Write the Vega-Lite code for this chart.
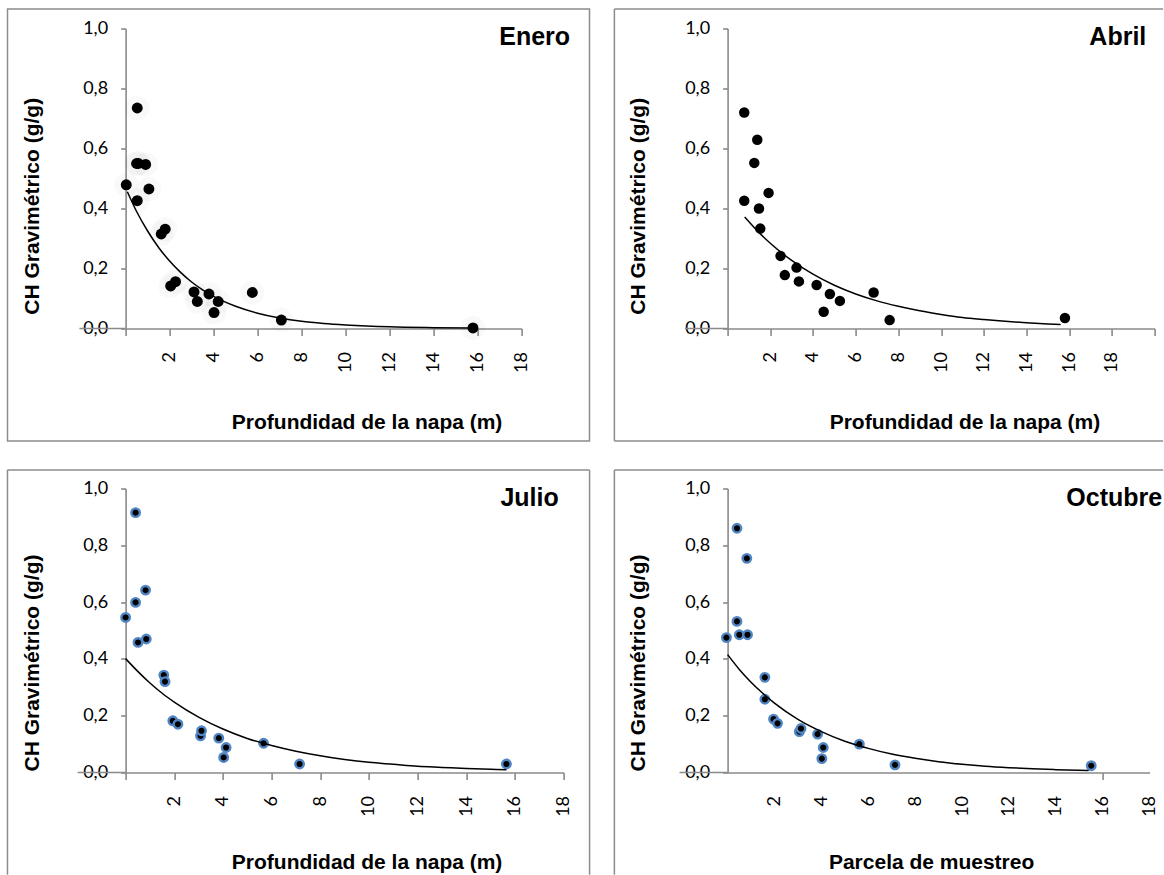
{
 "$schema": "https://vega.github.io/schema/vega-lite/v6.json",
 "background": "white",
 "padding": {"left": 6.6, "top": 7.5, "right": 0, "bottom": 0},
 "config": {
  "view": {"stroke": null},
  "axis": {"grid": false, "domainColor": "#8a8a8a", "domainWidth": 1.6, "tickColor": "#8a8a8a", "tickWidth": 1.6, "labelFont": "Lato", "labelFontSize": 18, "labelColor": "#000", "labelOverlap": false, "labelFlush": false, "titleFont": "Liberation Sans", "titleFontSize": 21, "titleFontWeight": "bold", "titleColor": "#000"},
  "axisX": {"tickSize": 7, "labelAngle": 270, "labelAlign": "right", "labelBaseline": "middle", "labelPadding": 16, "titleAngle": 0, "titleAlign": "center", "titleBaseline": "alphabetic"},
  "axisY": {"tickSize": 5, "labelPadding": 13, "titleAngle": 270, "titleAlign": "center", "titleBaseline": "middle"},
  "title": {"font": "Liberation Sans", "fontSize": 25, "fontWeight": "bold", "color": "#000", "anchor": "end", "frame": "group", "baseline": "middle", "offset": 0}
 },
 "datasets": {
  "obs": [
   {"mes": "Enero", "prof": 0.03, "ch": 0.479}, {"mes": "Enero", "prof": 0.5, "ch": 0.55}, {"mes": "Enero", "prof": 0.58, "ch": 0.55}, {"mes": "Enero", "prof": 0.91, "ch": 0.547}, {"mes": "Enero", "prof": 1.06, "ch": 0.465}, {"mes": "Enero", "prof": 0.53, "ch": 0.426}, {"mes": "Enero", "prof": 0.53, "ch": 0.735}, {"mes": "Enero", "prof": 1.62, "ch": 0.315}, {"mes": "Enero", "prof": 1.8, "ch": 0.331}, {"mes": "Enero", "prof": 2.05, "ch": 0.142}, {"mes": "Enero", "prof": 2.27, "ch": 0.156}, {"mes": "Enero", "prof": 3.11, "ch": 0.122}, {"mes": "Enero", "prof": 3.26, "ch": 0.09}, {"mes": "Enero", "prof": 3.79, "ch": 0.115}, {"mes": "Enero", "prof": 4.21, "ch": 0.09}, {"mes": "Enero", "prof": 4.02, "ch": 0.053}, {"mes": "Enero", "prof": 5.76, "ch": 0.12}, {"mes": "Enero", "prof": 7.08, "ch": 0.028}, {"mes": "Enero", "prof": 15.79, "ch": 0.002},
   {"mes": "Abril", "prof": 0.78, "ch": 0.72}, {"mes": "Abril", "prof": 1.39, "ch": 0.629}, {"mes": "Abril", "prof": 1.25, "ch": 0.552}, {"mes": "Abril", "prof": 0.78, "ch": 0.426}, {"mes": "Abril", "prof": 1.92, "ch": 0.452}, {"mes": "Abril", "prof": 1.47, "ch": 0.4}, {"mes": "Abril", "prof": 1.53, "ch": 0.333}, {"mes": "Abril", "prof": 2.48, "ch": 0.242}, {"mes": "Abril", "prof": 2.68, "ch": 0.178}, {"mes": "Abril", "prof": 3.23, "ch": 0.203}, {"mes": "Abril", "prof": 3.34, "ch": 0.157}, {"mes": "Abril", "prof": 4.17, "ch": 0.145}, {"mes": "Abril", "prof": 4.79, "ch": 0.115}, {"mes": "Abril", "prof": 4.5, "ch": 0.056}, {"mes": "Abril", "prof": 5.26, "ch": 0.092}, {"mes": "Abril", "prof": 6.84, "ch": 0.12}, {"mes": "Abril", "prof": 7.59, "ch": 0.028}, {"mes": "Abril", "prof": 15.8, "ch": 0.035},
   {"mes": "Julio", "prof": 0.41, "ch": 0.915}, {"mes": "Julio", "prof": 0.82, "ch": 0.642}, {"mes": "Julio", "prof": 0.41, "ch": 0.599}, {"mes": "Julio", "prof": 0.0, "ch": 0.546}, {"mes": "Julio", "prof": 0.51, "ch": 0.458}, {"mes": "Julio", "prof": 0.85, "ch": 0.47}, {"mes": "Julio", "prof": 1.57, "ch": 0.343}, {"mes": "Julio", "prof": 1.62, "ch": 0.32}, {"mes": "Julio", "prof": 1.94, "ch": 0.182}, {"mes": "Julio", "prof": 2.15, "ch": 0.17}, {"mes": "Julio", "prof": 3.08, "ch": 0.129}, {"mes": "Julio", "prof": 3.12, "ch": 0.147}, {"mes": "Julio", "prof": 3.83, "ch": 0.121}, {"mes": "Julio", "prof": 4.13, "ch": 0.088}, {"mes": "Julio", "prof": 4.03, "ch": 0.053}, {"mes": "Julio", "prof": 5.67, "ch": 0.103}, {"mes": "Julio", "prof": 7.15, "ch": 0.03}, {"mes": "Julio", "prof": 15.65, "ch": 0.03},
   {"mes": "Octubre", "prof": 0.4, "ch": 0.86}, {"mes": "Octubre", "prof": 0.82, "ch": 0.754}, {"mes": "Octubre", "prof": 0.4, "ch": 0.532}, {"mes": "Octubre", "prof": -0.05, "ch": 0.475}, {"mes": "Octubre", "prof": 0.5, "ch": 0.485}, {"mes": "Octubre", "prof": 0.85, "ch": 0.485}, {"mes": "Octubre", "prof": 1.59, "ch": 0.335}, {"mes": "Octubre", "prof": 1.59, "ch": 0.258}, {"mes": "Octubre", "prof": 1.96, "ch": 0.188}, {"mes": "Octubre", "prof": 2.13, "ch": 0.173}, {"mes": "Octubre", "prof": 3.06, "ch": 0.144}, {"mes": "Octubre", "prof": 3.13, "ch": 0.155}, {"mes": "Octubre", "prof": 3.84, "ch": 0.135}, {"mes": "Octubre", "prof": 4.08, "ch": 0.088}, {"mes": "Octubre", "prof": 4.02, "ch": 0.049}, {"mes": "Octubre", "prof": 5.62, "ch": 0.1}, {"mes": "Octubre", "prof": 7.14, "ch": 0.027}, {"mes": "Octubre", "prof": 15.51, "ch": 0.024}
  ],
  "fit": [
   {"mes": "Enero", "prof": 0.08, "ch": 0.456}, {"mes": "Enero", "prof": 0.5, "ch": 0.39}, {"mes": "Enero", "prof": 1, "ch": 0.325}, {"mes": "Enero", "prof": 1.5, "ch": 0.27}, {"mes": "Enero", "prof": 2, "ch": 0.225}, {"mes": "Enero", "prof": 2.5, "ch": 0.187}, {"mes": "Enero", "prof": 3, "ch": 0.155}, {"mes": "Enero", "prof": 3.5, "ch": 0.129}, {"mes": "Enero", "prof": 4, "ch": 0.107}, {"mes": "Enero", "prof": 5, "ch": 0.074}, {"mes": "Enero", "prof": 6, "ch": 0.051}, {"mes": "Enero", "prof": 7, "ch": 0.035}, {"mes": "Enero", "prof": 8, "ch": 0.024}, {"mes": "Enero", "prof": 9, "ch": 0.017}, {"mes": "Enero", "prof": 10, "ch": 0.012}, {"mes": "Enero", "prof": 12, "ch": 0.0055}, {"mes": "Enero", "prof": 14, "ch": 0.0027}, {"mes": "Enero", "prof": 15.8, "ch": 0.0013},
   {"mes": "Abril", "prof": 0.8, "ch": 0.372}, {"mes": "Abril", "prof": 1.5, "ch": 0.318}, {"mes": "Abril", "prof": 2, "ch": 0.284}, {"mes": "Abril", "prof": 3, "ch": 0.227}, {"mes": "Abril", "prof": 4, "ch": 0.181}, {"mes": "Abril", "prof": 5, "ch": 0.144}, {"mes": "Abril", "prof": 6, "ch": 0.115}, {"mes": "Abril", "prof": 7, "ch": 0.092}, {"mes": "Abril", "prof": 8, "ch": 0.074}, {"mes": "Abril", "prof": 9, "ch": 0.059}, {"mes": "Abril", "prof": 10, "ch": 0.047}, {"mes": "Abril", "prof": 11, "ch": 0.037}, {"mes": "Abril", "prof": 12, "ch": 0.03}, {"mes": "Abril", "prof": 13, "ch": 0.024}, {"mes": "Abril", "prof": 14, "ch": 0.019}, {"mes": "Abril", "prof": 15, "ch": 0.015}, {"mes": "Abril", "prof": 15.6, "ch": 0.013},
   {"mes": "Julio", "prof": 0, "ch": 0.401}, {"mes": "Julio", "prof": 0.5, "ch": 0.356}, {"mes": "Julio", "prof": 1, "ch": 0.315}, {"mes": "Julio", "prof": 1.5, "ch": 0.279}, {"mes": "Julio", "prof": 2, "ch": 0.248}, {"mes": "Julio", "prof": 3, "ch": 0.195}, {"mes": "Julio", "prof": 4, "ch": 0.153}, {"mes": "Julio", "prof": 5, "ch": 0.12}, {"mes": "Julio", "prof": 6, "ch": 0.095}, {"mes": "Julio", "prof": 7, "ch": 0.075}, {"mes": "Julio", "prof": 8, "ch": 0.059}, {"mes": "Julio", "prof": 9, "ch": 0.046}, {"mes": "Julio", "prof": 10, "ch": 0.036}, {"mes": "Julio", "prof": 11, "ch": 0.029}, {"mes": "Julio", "prof": 12, "ch": 0.022}, {"mes": "Julio", "prof": 13, "ch": 0.018}, {"mes": "Julio", "prof": 14, "ch": 0.014}, {"mes": "Julio", "prof": 15, "ch": 0.011}, {"mes": "Julio", "prof": 15.65, "ch": 0.0094},
   {"mes": "Octubre", "prof": 0, "ch": 0.415}, {"mes": "Octubre", "prof": 0.5, "ch": 0.363}, {"mes": "Octubre", "prof": 1, "ch": 0.318}, {"mes": "Octubre", "prof": 1.5, "ch": 0.279}, {"mes": "Octubre", "prof": 2, "ch": 0.244}, {"mes": "Octubre", "prof": 3, "ch": 0.187}, {"mes": "Octubre", "prof": 4, "ch": 0.144}, {"mes": "Octubre", "prof": 5, "ch": 0.11}, {"mes": "Octubre", "prof": 6, "ch": 0.085}, {"mes": "Octubre", "prof": 7, "ch": 0.065}, {"mes": "Octubre", "prof": 8, "ch": 0.05}, {"mes": "Octubre", "prof": 9, "ch": 0.038}, {"mes": "Octubre", "prof": 10, "ch": 0.029}, {"mes": "Octubre", "prof": 11, "ch": 0.022}, {"mes": "Octubre", "prof": 12, "ch": 0.017}, {"mes": "Octubre", "prof": 13, "ch": 0.013}, {"mes": "Octubre", "prof": 14, "ch": 0.01}, {"mes": "Octubre", "prof": 15.4, "ch": 0.007}
  ]
 },
 "columns": 2,
 "spacing": {"row": 160, "column": 164},
 "bounds": "flush",
 "concat": [
  {
   "width": 396, "height": 300,
   "title": {"text": "Enero", "dx": 48.5, "dy": 45.7},
   "layer": [
    {"data": {"name": "obs"}, "transform": [{"filter": "datum.mes == 'Enero'"}], "mark": {"type": "circle", "size": 120, "color": "#000", "opacity": 1},
     "encoding": {
      "x": {"field": "prof", "type": "quantitative", "scale": {"domain": [0, 18], "nice": false}, "axis": {"values": [0, 2, 4, 6, 8, 10, 12, 14, 16, 18], "labelExpr": "datum.value == 0 ? '' : datum.label", "title": "Profundidad de la napa (m)", "titleX": 241, "titleY": 99.8}},
      "y": {"field": "ch", "type": "quantitative", "scale": {"domain": [0, 1], "nice": false}, "axis": {"values": [0, 0.2, 0.4, 0.6, 0.8, 1], "labelExpr": "replace(format(datum.value, '.1f'), '.', ',')", "title": "CH Gravimétrico (g/g)", "titleX": -93.5, "titleY": 177.3}}}},
    {"data": {"name": "obs"}, "transform": [{"filter": "datum.mes == 'Enero'"}], "mark": {"type": "circle", "size": 600, "color": "#000", "opacity": 0.025},
     "encoding": {"x": {"field": "prof", "type": "quantitative", "scale": {"domain": [0, 18], "nice": false}}, "y": {"field": "ch", "type": "quantitative", "scale": {"domain": [0, 1], "nice": false}}}},
    {"data": {"values": [{}]}, "mark": {"type": "rect", "filled": false, "color": "#8c8c8c", "strokeWidth": 1.5},
     "encoding": {"x": {"datum": -5.368, "type": "quantitative", "scale": {"domain": [0, 18], "nice": false}}, "x2": {"datum": 21.086}, "y": {"datum": 1.0647, "type": "quantitative", "scale": {"domain": [0, 1], "nice": false}}, "y2": {"datum": -0.3753}}},
    {"data": {"values": [{}]}, "mark": {"type": "rule", "color": "#8a8a8a", "strokeWidth": 1.6},
     "encoding": {"x": {"datum": -2.1, "type": "quantitative", "scale": {"domain": [0, 18], "nice": false}}, "x2": {"datum": 0}, "y": {"datum": 0, "type": "quantitative", "scale": {"domain": [0, 1], "nice": false}}}},
    {"data": {"name": "fit"}, "transform": [{"filter": "datum.mes == 'Enero'"}], "mark": {"type": "line", "color": "#000", "strokeWidth": 1.5, "interpolate": "monotone"},
     "encoding": {"x": {"field": "prof", "type": "quantitative", "scale": {"domain": [0, 18], "nice": false}}, "y": {"field": "ch", "type": "quantitative", "scale": {"domain": [0, 1], "nice": false}}}}
   ]
  },
  {
   "width": 427, "height": 300,
   "title": {"text": "Abril", "dx": -8.3, "dy": 45.7},
   "layer": [
    {"data": {"name": "obs"}, "transform": [{"filter": "datum.mes == 'Abril'"}], "mark": {"type": "circle", "size": 110, "color": "#000", "opacity": 1},
     "encoding": {
      "x": {"field": "prof", "type": "quantitative", "scale": {"domain": [0, 20], "nice": false}, "axis": {"values": [0, 2, 4, 6, 8, 10, 12, 14, 16, 18, 20], "labelExpr": "datum.value == 0 || datum.value == 20 ? '' : datum.label", "title": "Profundidad de la napa (m)", "titleX": 236.8, "titleY": 99.8}},
      "y": {"field": "ch", "type": "quantitative", "scale": {"domain": [0, 1], "nice": false}, "axis": {"values": [0, 0.2, 0.4, 0.6, 0.8, 1], "labelExpr": "replace(format(datum.value, '.1f'), '.', ',')", "title": "CH Gravimétrico (g/g)", "titleX": -89.5, "titleY": 177.3}}}},
    {"data": {"values": [{}]}, "mark": {"type": "rule", "color": "#8c8c8c", "strokeWidth": 1.5},
     "encoding": {"x": {"datum": -5.302, "type": "quantitative", "scale": {"domain": [0, 20], "nice": false}}, "y": {"datum": 1.0647, "type": "quantitative", "scale": {"domain": [0, 1], "nice": false}}, "y2": {"datum": -0.3753}}},
    {"data": {"values": [{}]}, "mark": {"type": "rule", "color": "#8c8c8c", "strokeWidth": 1.5},
     "encoding": {"x": {"datum": -5.302, "type": "quantitative", "scale": {"domain": [0, 20], "nice": false}}, "x2": {"datum": 20.398}, "y": {"datum": 1.0647, "type": "quantitative", "scale": {"domain": [0, 1], "nice": false}}}},
    {"data": {"values": [{}]}, "mark": {"type": "rule", "color": "#8c8c8c", "strokeWidth": 1.5},
     "encoding": {"x": {"datum": -5.302, "type": "quantitative", "scale": {"domain": [0, 20], "nice": false}}, "x2": {"datum": 20.398}, "y": {"datum": -0.3753, "type": "quantitative", "scale": {"domain": [0, 1], "nice": false}}}},
    {"data": {"values": [{}]}, "mark": {"type": "rule", "color": "#8a8a8a", "strokeWidth": 1.6},
     "encoding": {"x": {"datum": -2.0, "type": "quantitative", "scale": {"domain": [0, 20], "nice": false}}, "x2": {"datum": 0}, "y": {"datum": 0, "type": "quantitative", "scale": {"domain": [0, 1], "nice": false}}}},
    {"data": {"name": "fit"}, "transform": [{"filter": "datum.mes == 'Abril'"}], "mark": {"type": "line", "color": "#000", "strokeWidth": 1.5, "interpolate": "monotone"},
     "encoding": {"x": {"field": "prof", "type": "quantitative", "scale": {"domain": [0, 20], "nice": false}}, "y": {"field": "ch", "type": "quantitative", "scale": {"domain": [0, 1], "nice": false}}}}
   ]
  },
  {
   "width": 438, "height": 284,
   "title": {"text": "Julio", "dx": -4.9, "dy": 45.7},
   "layer": [
    {"data": {"name": "obs"}, "transform": [{"filter": "datum.mes == 'Julio'"}], "mark": {"type": "point", "shape": "circle", "filled": true, "fill": "#000", "stroke": "#5085C4", "strokeWidth": 2.4, "size": 72, "opacity": 1},
     "encoding": {
      "x": {"field": "prof", "type": "quantitative", "scale": {"domain": [0, 18], "nice": false}, "axis": {"values": [0, 2, 4, 6, 8, 10, 12, 14, 16, 18], "labelExpr": "datum.value == 0 ? '' : datum.label", "title": "Profundidad de la napa (m)", "titleX": 241, "titleY": 96.3}},
      "y": {"field": "ch", "type": "quantitative", "scale": {"domain": [0, 1], "nice": false}, "axis": {"values": [0, 0.2, 0.4, 0.6, 0.8, 1], "labelExpr": "replace(format(datum.value, '.1f'), '.', ',')", "title": "CH Gravimétrico (g/g)", "titleX": -93.5, "titleY": 174}}}},
    {"data": {"values": [{}]}, "mark": {"type": "rule", "color": "#8c8c8c", "strokeWidth": 1.5},
     "encoding": {"x": {"datum": -4.854, "type": "quantitative", "scale": {"domain": [0, 18], "nice": false}}, "y": {"datum": 1.0648, "type": "quantitative", "scale": {"domain": [0, 1], "nice": false}}, "y2": {"datum": -0.36}}},
    {"data": {"values": [{}]}, "mark": {"type": "rule", "color": "#8c8c8c", "strokeWidth": 1.5},
     "encoding": {"x": {"datum": -4.854, "type": "quantitative", "scale": {"domain": [0, 18], "nice": false}}, "x2": {"datum": 19.067}, "y": {"datum": 1.0648, "type": "quantitative", "scale": {"domain": [0, 1], "nice": false}}}},
    {"data": {"values": [{}]}, "mark": {"type": "rule", "color": "#8c8c8c", "strokeWidth": 1.5},
     "encoding": {"x": {"datum": 19.067, "type": "quantitative", "scale": {"domain": [0, 18], "nice": false}}, "y": {"datum": 1.0648, "type": "quantitative", "scale": {"domain": [0, 1], "nice": false}}, "y2": {"datum": -0.36}}},
    {"data": {"values": [{}]}, "mark": {"type": "rule", "color": "#8a8a8a", "strokeWidth": 1.6},
     "encoding": {"x": {"datum": -1.97, "type": "quantitative", "scale": {"domain": [0, 18], "nice": false}}, "x2": {"datum": 0}, "y": {"datum": 0, "type": "quantitative", "scale": {"domain": [0, 1], "nice": false}}}},
    {"data": {"name": "fit"}, "transform": [{"filter": "datum.mes == 'Julio'"}], "mark": {"type": "line", "color": "#000", "strokeWidth": 1.5, "interpolate": "monotone"},
     "encoding": {"x": {"field": "prof", "type": "quantitative", "scale": {"domain": [0, 18], "nice": false}}, "y": {"field": "ch", "type": "quantitative", "scale": {"domain": [0, 1], "nice": false}}}}
   ]
  },
  {
   "width": 422, "height": 284,
   "title": {"text": "Octubre", "dx": 12.5, "dy": 45.7},
   "layer": [
    {"data": {"name": "obs"}, "transform": [{"filter": "datum.mes == 'Octubre'"}], "mark": {"type": "point", "shape": "circle", "filled": true, "fill": "#000", "stroke": "#5085C4", "strokeWidth": 2.4, "size": 72, "opacity": 1},
     "encoding": {
      "x": {"field": "prof", "type": "quantitative", "scale": {"domain": [0, 18], "nice": false}, "axis": {"values": [0, 2, 4, 6, 8, 10, 12, 14, 16, 18], "labelExpr": "datum.value == 0 ? '' : datum.label", "tickOpacity": {"condition": {"test": "datum.value == 16", "value": 1}, "value": 0}, "title": "Parcela de muestreo", "titleX": 203.5, "titleY": 96.3}},
      "y": {"field": "ch", "type": "quantitative", "scale": {"domain": [0, 1], "nice": false}, "axis": {"values": [0, 0.2, 0.4, 0.6, 0.8, 1], "labelExpr": "replace(format(datum.value, '.1f'), '.', ',')", "title": "CH Gravimétrico (g/g)", "titleX": -89.5, "titleY": 174}}}},
    {"data": {"values": [{}]}, "mark": {"type": "rule", "color": "#8c8c8c", "strokeWidth": 1.5},
     "encoding": {"x": {"datum": -4.829, "type": "quantitative", "scale": {"domain": [0, 18], "nice": false}}, "y": {"datum": 1.0648, "type": "quantitative", "scale": {"domain": [0, 1], "nice": false}}, "y2": {"datum": -0.36}}},
    {"data": {"values": [{}]}, "mark": {"type": "rule", "color": "#8c8c8c", "strokeWidth": 1.5},
     "encoding": {"x": {"datum": -4.829, "type": "quantitative", "scale": {"domain": [0, 18], "nice": false}}, "x2": {"datum": 18.58}, "y": {"datum": 1.0648, "type": "quantitative", "scale": {"domain": [0, 1], "nice": false}}}},
    {"data": {"values": [{}]}, "mark": {"type": "rule", "color": "#8a8a8a", "strokeWidth": 1.6},
     "encoding": {"x": {"datum": -2.05, "type": "quantitative", "scale": {"domain": [0, 18], "nice": false}}, "x2": {"datum": 0}, "y": {"datum": 0, "type": "quantitative", "scale": {"domain": [0, 1], "nice": false}}}},
    {"data": {"name": "fit"}, "transform": [{"filter": "datum.mes == 'Octubre'"}], "mark": {"type": "line", "color": "#000", "strokeWidth": 1.5, "interpolate": "monotone"},
     "encoding": {"x": {"field": "prof", "type": "quantitative", "scale": {"domain": [0, 18], "nice": false}}, "y": {"field": "ch", "type": "quantitative", "scale": {"domain": [0, 1], "nice": false}}}}
   ]
  }
 ]
}
